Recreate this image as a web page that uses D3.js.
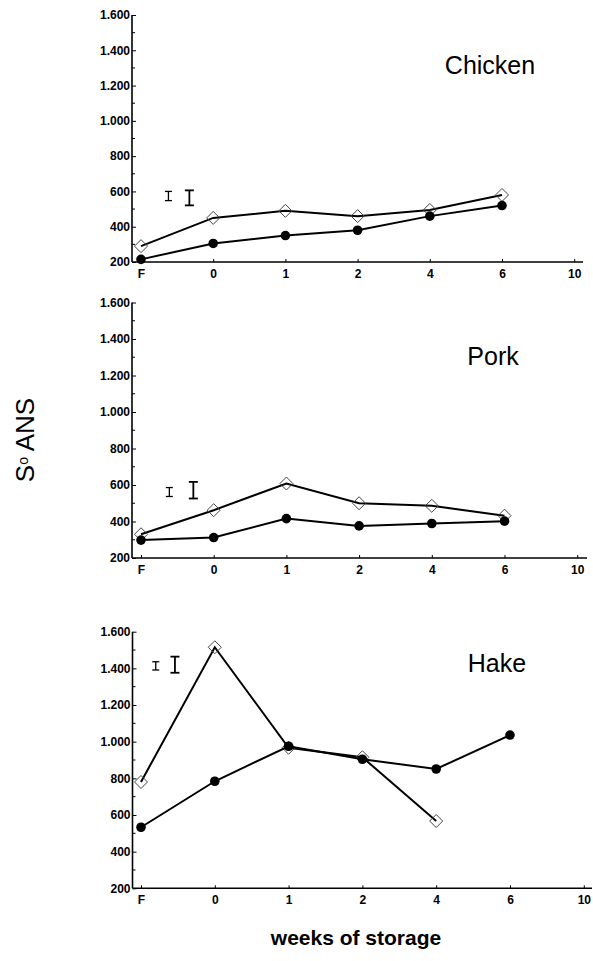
<!DOCTYPE html>
<html>
<head>
<meta charset="utf-8">
<script src="https://cdn.jsdelivr.net/npm/d3@7"></script>
<style>
  html, body { margin: 0; padding: 0; background: #fff; }
  svg { display: block; }
  text { font-family: "Liberation Sans", Arial, Helvetica, sans-serif; fill: #000; }
</style>
</head>
<body>
<svg id="chart" width="593" height="961"></svg>
<script>
// ---------- data ----------
const categories = ["F", "0", "1", "2", "4", "6", "10"];
const yTickValues = [200, 400, 600, 800, 1000, 1200, 1400, 1600];
const panelNames = ["Chicken", "Pork", "Hake"];

// open diamonds
const chickenDiamond = [290, 450, 490, 460, 495, 580];
const porkDiamond    = [330, 462, 608, 500, 486, 432];
const hakeDiamond    = [780, 1515, 967, 915, 567, null];

// filled circles
const chickenCircle = [215, 305, 350, 380, 460, 520];
const porkCircle    = [298, 312, 416, 376, 389, 402];
const hakeCircle    = [533, 784, 975, 904, 851, 1036];

// error bars (position in category units, low, high)
const chickenErrPos = [0.38, 0.67];
const chickenErrLo  = [548, 521];
const chickenErrHi  = [600, 606];
const porkErrPos = [0.39, 0.72];
const porkErrLo  = [537, 526];
const porkErrHi  = [586, 617];
const hakeErrPos = [0.20, 0.46];
const hakeErrLo  = [1391, 1376];
const hakeErrHi  = [1436, 1464];

// ---------- layout ----------
const panels = [
  { name: panelNames[0], diamond: chickenDiamond, circle: chickenCircle,
    errPos: chickenErrPos, errLo: chickenErrLo, errHi: chickenErrHi,
    axisLeft: 132, axisRight: 583, x0: 141, step: 72.2, yTop: 15, yBottom: 262,
    label: [490, 65] },
  { name: panelNames[1], diamond: porkDiamond, circle: porkCircle,
    errPos: porkErrPos, errLo: porkErrLo, errHi: porkErrHi,
    axisLeft: 132, axisRight: 587, x0: 141, step: 72.7, yTop: 302.5, yBottom: 558,
    label: [493, 356] },
  { name: panelNames[2], diamond: hakeDiamond, circle: hakeCircle,
    errPos: hakeErrPos, errLo: hakeErrLo, errHi: hakeErrHi,
    axisLeft: 132.5, axisRight: 592, x0: 141, step: 73.8, yTop: 631.7, yBottom: 888.3,
    label: [497, 663] }
];

const svg = d3.select("#chart");
const locale = d3.formatLocale({ decimal: ",", thousands: ".", grouping: [3], currency: ["", ""] });
const fmt = locale.format(",");

panels.forEach(p => {
  const g = svg.append("g");
  const x = d3.scaleLinear().domain([0, categories.length - 1])
    .range([p.x0, p.x0 + p.step * (categories.length - 1)]);
  const y = d3.scaleLinear().domain([200, 1600]).range([p.yBottom, p.yTop]);

  // minor y ticks
  const minor = d3.range(300, 1600, 200);
  g.append("g").selectAll("line").data(minor).join("line")
    .attr("x1", p.axisLeft).attr("x2", p.axisLeft + 3)
    .attr("y1", d => y(d)).attr("y2", d => y(d))
    .attr("stroke", "#000").attr("stroke-width", 1);

  // y axis
  const ya = g.append("g").attr("transform", `translate(${p.axisLeft},0)`)
    .call(d3.axisLeft(y).tickValues(yTickValues).tickFormat(fmt)
      .tickSizeInner(-4).tickSizeOuter(0).tickPadding(2));
  ya.select(".domain").attr("stroke", "#000").attr("stroke-width", 1.6)
    .attr("d", `M0,${p.yTop}V${p.yBottom}`);
  ya.selectAll(".tick line").attr("stroke", "#000").attr("stroke-width", 1);
  ya.selectAll(".tick text").style("font-size", "12px").style("font-weight", "bold")
    .style("font-family", "'Liberation Sans', Arial, sans-serif");

  // x axis
  const xa = g.append("g").attr("transform", `translate(0,${p.yBottom})`)
    .call(d3.axisBottom(x).tickValues(d3.range(categories.length))
      .tickFormat(i => categories[i]).tickSizeInner(-3).tickSizeOuter(0).tickPadding(7));
  xa.select(".domain").attr("stroke", "#000").attr("stroke-width", 1.6)
    .attr("d", `M${p.axisLeft},0H${p.axisRight}`);
  xa.selectAll(".tick line").attr("stroke", "#000").attr("stroke-width", 1);
  xa.selectAll(".tick text").style("font-size", "12px").style("font-weight", "bold")
    .style("font-family", "'Liberation Sans', Arial, sans-serif");

  // error bars
  p.errPos.forEach((pos, i) => {
    const cx = x(pos);
    const hw = i === 0 ? 3.5 : 4.5;
    const eb = g.append("g").attr("stroke", "#000").attr("stroke-width", i === 0 ? 1.3 : 1.8);
    eb.append("line").attr("x1", cx).attr("x2", cx).attr("y1", y(p.errLo[i])).attr("y2", y(p.errHi[i]));
    eb.append("line").attr("x1", cx - hw).attr("x2", cx + hw).attr("y1", y(p.errLo[i])).attr("y2", y(p.errLo[i]));
    eb.append("line").attr("x1", cx - hw).attr("x2", cx + hw).attr("y1", y(p.errHi[i])).attr("y2", y(p.errHi[i]));
  });

  const line = d3.line().defined(d => d != null).x((d, i) => x(i)).y(d => y(d));

  // diamond series
  g.append("path").datum(p.diamond).attr("d", line)
    .attr("fill", "none").attr("stroke", "#000").attr("stroke-width", 2);
  g.append("g").selectAll("path")
    .data(p.diamond.map((v, i) => ({ v, i })).filter(d => d.v != null))
    .join("path")
    .attr("transform", d => `translate(${x(d.i)},${y(d.v)})`)
    .attr("d", "M0,-6.5L6.5,0L0,6.5L-6.5,0Z")
    .attr("fill", "none").attr("stroke", "#444").attr("stroke-width", 1);

  // circle series
  g.append("path").datum(p.circle).attr("d", line)
    .attr("fill", "none").attr("stroke", "#000").attr("stroke-width", 2);
  g.append("g").selectAll("circle")
    .data(p.circle.map((v, i) => ({ v, i })).filter(d => d.v != null))
    .join("circle")
    .attr("cx", d => x(d.i)).attr("cy", d => y(d.v)).attr("r", 4.8)
    .attr("fill", "#000");

  // panel label
  g.append("text").attr("x", p.label[0]).attr("y", p.label[1])
    .attr("text-anchor", "middle").attr("dominant-baseline", "central")
    .style("font-size", "25px").text(p.name);
});

// y axis title
const yt = svg.append("text")
  .attr("transform", "translate(34,440) rotate(-90)")
  .attr("text-anchor", "middle")
  .style("font-size", "26px");
yt.append("tspan").text("S");
yt.append("tspan").attr("dy", -6).style("font-size", "14px").text("o");
yt.append("tspan").attr("dy", 6).text(" ANS");

// x axis title
svg.append("text").attr("x", 356).attr("y", 945)
  .attr("text-anchor", "middle")
  .style("font-size", "21px").style("font-weight", "bold")
  .text("weeks of storage");
</script>
</body>
</html>
